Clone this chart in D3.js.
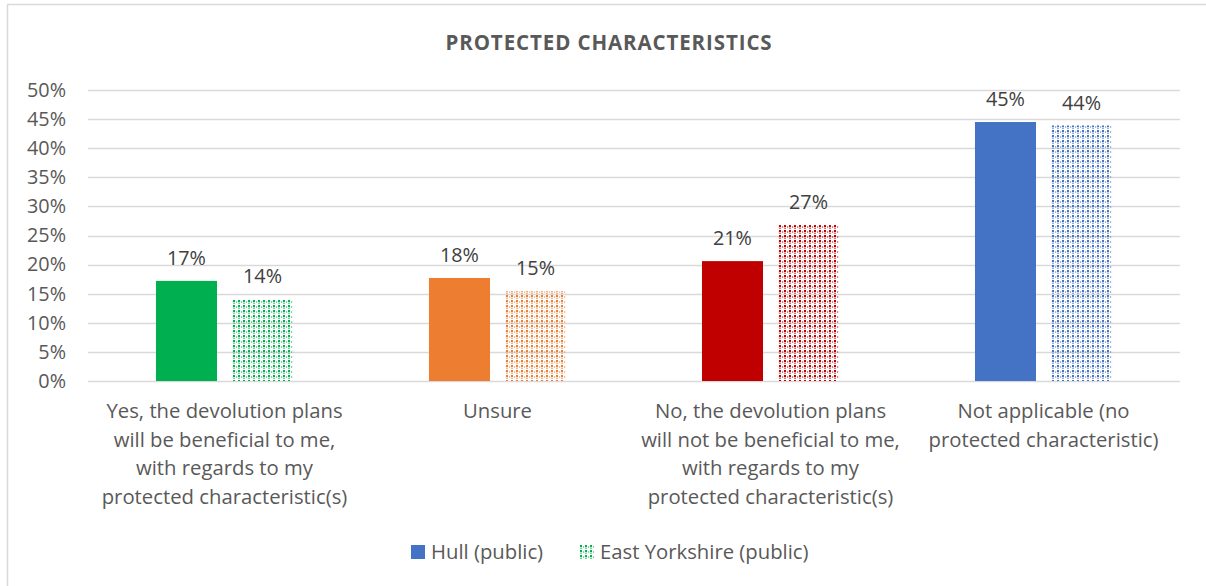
<!DOCTYPE html>
<html>
<head>
<meta charset="utf-8">
<script src="https://cdn.jsdelivr.net/npm/d3@7"></script>
<style>
  html, body { margin: 0; padding: 0; background: #fff; }
  svg { display: block; font-family: "Open Sans", sans-serif; }
</style>
</head>
<body>
<svg id="chart" width="1206" height="586"></svg>
<script>
// Survey responses on protected characteristics
const categories = [
  "Yes, the devolution plans will be beneficial to me, with regards to my protected characteristic(s)",
  "Unsure",
  "No, the devolution plans will not be beneficial to me, with regards to my protected characteristic(s)",
  "Not applicable (no protected characteristic)"
];
const categoryLines = [
  ["Yes, the devolution plans", "will be beneficial to me,", "with regards to my", "protected characteristic(s)"],
  ["Unsure"],
  ["No, the devolution plans", "will not be beneficial to me,", "with regards to my", "protected characteristic(s)"],
  ["Not applicable (no", "protected characteristic)"]
];
const series = ["Hull (public)", "East Yorkshire (public)"];
const hullValues = [0.172, 0.177, 0.206, 0.445];
const eastYorkshireValues = [0.141, 0.154, 0.268, 0.439];
const categoryColors = ["#00b050", "#ed7d31", "#c00000", "#4472c4"];
const yTicks = [0, 0.05, 0.10, 0.15, 0.20, 0.25, 0.30, 0.35, 0.40, 0.45, 0.50];

const svg = d3.select("#chart");
const plotLeft = 88, plotRight = 1180, plotTop = 90, plotBottom = 381;
const fs = 20.3;

// Frame around the chart area
svg.append("path")
  .attr("d", "M7.5,586 V4.5 H1206")
  .attr("fill", "none").attr("stroke", "#d9d9d9").attr("stroke-width", 1.5);

// Dotted fill patterns, one per category colour
const defs = svg.append("defs");
categoryColors.forEach((c, i) => {
  const p = defs.append("pattern")
    .attr("id", "dots" + i)
    .attr("patternUnits", "userSpaceOnUse")
    .attr("width", 5).attr("height", 5);
  p.append("rect").attr("x", 0).attr("y", 0).attr("width", 2).attr("height", 2).attr("fill", c);
  p.append("rect").attr("x", 0).attr("y", 2.5).attr("width", 2).attr("height", 1.5).attr("fill", c).attr("opacity", 0.55);
  p.append("rect").attr("x", 3).attr("y", 1).attr("width", 1.2).attr("height", 2).attr("fill", c).attr("opacity", 0.5);
});

const y = d3.scaleLinear().domain([0, 0.5]).range([plotBottom, plotTop]);
const x0 = d3.scaleBand().domain(categories).range([plotLeft, plotRight]).padding(0);
const x1 = d3.scaleBand().domain(series).range([0, x0.bandwidth()])
  .paddingInner(15 / 76).paddingOuter(0.894);

// Title
svg.append("text")
  .attr("x", 609).attr("y", 50)
  .attr("text-anchor", "middle")
  .attr("font-weight", "bold").attr("font-size", 20.5)
  .attr("letter-spacing", 0.9)
  .attr("fill", "#595959")
  .text("PROTECTED CHARACTERISTICS");

// Value axis labels
const yAxis = d3.axisLeft(y).tickValues(yTicks).tickFormat(d3.format(".0%")).tickSize(0).tickPadding(22);
const gy = svg.append("g").attr("transform", `translate(${plotLeft},0)`).call(yAxis);
gy.select(".domain").remove();
gy.selectAll("text").attr("font-size", 19.8).attr("fill", "#595959").attr("font-family", "'Open Sans', sans-serif");

// Gridlines
svg.append("g").selectAll("line").data(yTicks).join("line")
  .attr("x1", plotLeft).attr("x2", plotRight)
  .attr("y1", d => Math.round(y(d)) + 0.5).attr("y2", d => Math.round(y(d)) + 0.5)
  .attr("stroke", "#d9d9d9").attr("stroke-width", 1.5);

// Bars
const rows = categories.map((c, i) => ({
  cat: c, i,
  vals: [
    { s: series[0], v: hullValues[i] },
    { s: series[1], v: eastYorkshireValues[i] }
  ]
}));

const groups = svg.append("g").selectAll("g").data(rows).join("g")
  .attr("transform", d => `translate(${x0(d.cat)},0)`);

groups.selectAll("rect").data(d => d.vals.map(v => ({ ...v, i: d.i }))).join("rect")
  .attr("x", d => x1(d.s))
  .attr("width", x1.bandwidth())
  .attr("y", d => y(d.v))
  .attr("height", d => y(0) - y(d.v))
  .attr("fill", d => d.s === series[0] ? categoryColors[d.i] : `url(#dots${d.i})`);

// Data labels
groups.selectAll("text.lbl").data(d => d.vals).join("text")
  .attr("class", "lbl")
  .attr("x", d => x1(d.s) + x1.bandwidth() / 2)
  .attr("y", d => y(d.v) - 16)
  .attr("text-anchor", "middle")
  .attr("font-size", 19.8).attr("fill", "#404040")
  .text(d => d3.format(".0%")(d.v));

// Category labels
const catG = svg.append("g").selectAll("text").data(rows).join("text")
  .attr("text-anchor", "middle")
  .attr("font-size", fs).attr("fill", "#595959")
  .attr("transform", d => `translate(${x0(d.cat) + x0.bandwidth() / 2},0)`);
catG.selectAll("tspan").data(d => categoryLines[d.i]).join("tspan")
  .attr("x", 0)
  .attr("y", (d, j) => 418 + j * 28.7)
  .text(d => d);

// Legend
const legend = svg.append("g");
legend.append("rect").attr("x", 411).attr("y", 545).attr("width", 14).attr("height", 14).attr("fill", categoryColors[3]);
legend.append("text").attr("x", 431).attr("y", 559).attr("font-size", fs).attr("fill", "#595959").text(series[0]);
legend.append("rect").attr("x", 580).attr("y", 545).attr("width", 14).attr("height", 14).attr("fill", "url(#dots0)");
legend.append("text").attr("x", 600).attr("y", 559).attr("font-size", fs).attr("fill", "#595959").text(series[1]);
</script>
</body>
</html>
